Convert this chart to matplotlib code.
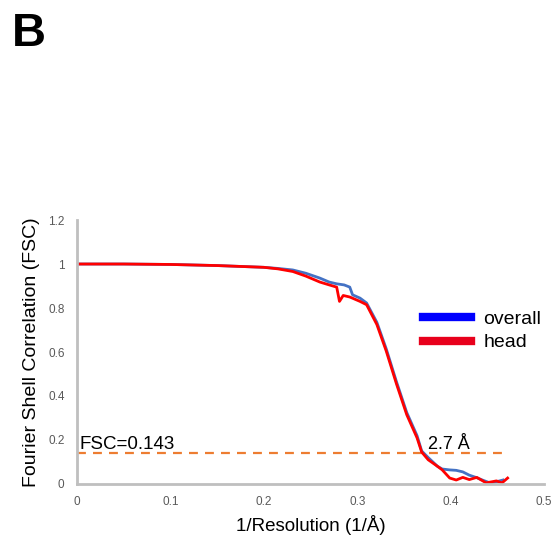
import matplotlib
matplotlib.use('Agg')
import matplotlib.pyplot as plt
from matplotlib.lines import Line2D

plt.rcParams['font.family'] = ['Liberation Sans', 'DejaVu Sans']

# FSC curves
x_overall = [0.0, 0.05, 0.10, 0.15, 0.20, 0.215, 0.231, 0.245, 0.260, 0.270, 0.278, 0.286, 0.292,
             0.295, 0.303, 0.310, 0.321, 0.331, 0.342, 0.353, 0.364, 0.369, 0.376, 0.381,
             0.386, 0.391, 0.399, 0.406, 0.413, 0.420, 0.427, 0.434, 0.442, 0.449, 0.456]
y_overall = [1.0, 1.0, 0.998, 0.993, 0.985, 0.980, 0.973, 0.958, 0.936, 0.918, 0.910, 0.905, 0.895,
             0.860, 0.845, 0.823, 0.735, 0.615, 0.465, 0.325, 0.220, 0.150, 0.120, 0.100,
             0.080, 0.068, 0.064, 0.062, 0.055, 0.040, 0.030, 0.018, 0.005, 0.010, 0.018]

x_head = [0.0, 0.05, 0.10, 0.15, 0.20, 0.215, 0.231, 0.245, 0.260, 0.270, 0.278, 0.281, 0.285,
          0.292, 0.303, 0.310, 0.321, 0.331, 0.342, 0.353, 0.364, 0.369, 0.376, 0.381,
          0.386, 0.391, 0.399, 0.406, 0.413, 0.420, 0.428, 0.438, 0.449, 0.455, 0.461]
y_head = [1.0, 1.0, 0.998, 0.993, 0.985, 0.978, 0.966, 0.945, 0.918, 0.905, 0.895, 0.830, 0.857,
          0.850, 0.830, 0.815, 0.725, 0.605, 0.455, 0.315, 0.210, 0.145, 0.110, 0.095,
          0.080, 0.064, 0.027, 0.018, 0.030, 0.020, 0.030, 0.005, 0.014, 0.005, 0.027]

threshold = 0.143
threshold_x = [0.0, 0.46]

fig = plt.figure(figsize=(5.58, 5.41), dpi=100)
ax = fig.add_axes([0.138, 0.1054, 0.837, 0.4879])

ax.plot(threshold_x, [threshold, threshold], color='#ED7D31', linestyle=(0, (4, 3.2)), linewidth=1.6)
ax.plot(x_overall, y_overall, color='#4472C4', linewidth=2)
ax.plot(x_head, y_head, color='#FF0000', linewidth=2)

ax.text(0.003, 0.158, 'FSC=0.143', fontsize=13.5, color='#000000')
ax.text(0.376, 0.158, '2.7 Å', fontsize=13, color='#000000')

ax.set_xlim(0, 0.5)
ax.set_ylim(0, 1.2)
ax.set_xticks([0, 0.1, 0.2, 0.3, 0.4, 0.5])
ax.set_xticklabels(['0', '0.1', '0.2', '0.3', '0.4', '0.5'])
ax.set_yticks([0, 0.2, 0.4, 0.6, 0.8, 1.0, 1.2])
ax.set_yticklabels(['0', '0.2', '0.4', '0.6', '0.8', '1', '1.2'])
ax.tick_params(length=0, labelsize=8.5, colors='#595959', pad=9)

for s in ['top', 'right']:
    ax.spines[s].set_visible(False)
for s in ['left', 'bottom']:
    ax.spines[s].set_color('#BFBFBF')
    ax.spines[s].set_linewidth(2)

ax.set_xlabel('1/Resolution (1/Å)', fontsize=13.5, labelpad=5)
ax.set_ylabel('Fourier Shell Correlation (FSC)', fontsize=14, labelpad=6)

handles = [Line2D([], [], color='#0000FF', linewidth=6),
           Line2D([], [], color='#E8001C', linewidth=6)]
ax.legend(handles, ['overall', 'head'], loc='center left', bbox_to_anchor=(0.741, 0.58),
          frameon=False, fontsize=14, handlelength=2.47, handletextpad=0.62,
          labelspacing=0.3, borderpad=0, borderaxespad=0)

fig.text(0.022, 0.978, 'B', fontsize=34, fontweight='bold', va='top', ha='left')

fig.savefig('out.png', dpi=100)
